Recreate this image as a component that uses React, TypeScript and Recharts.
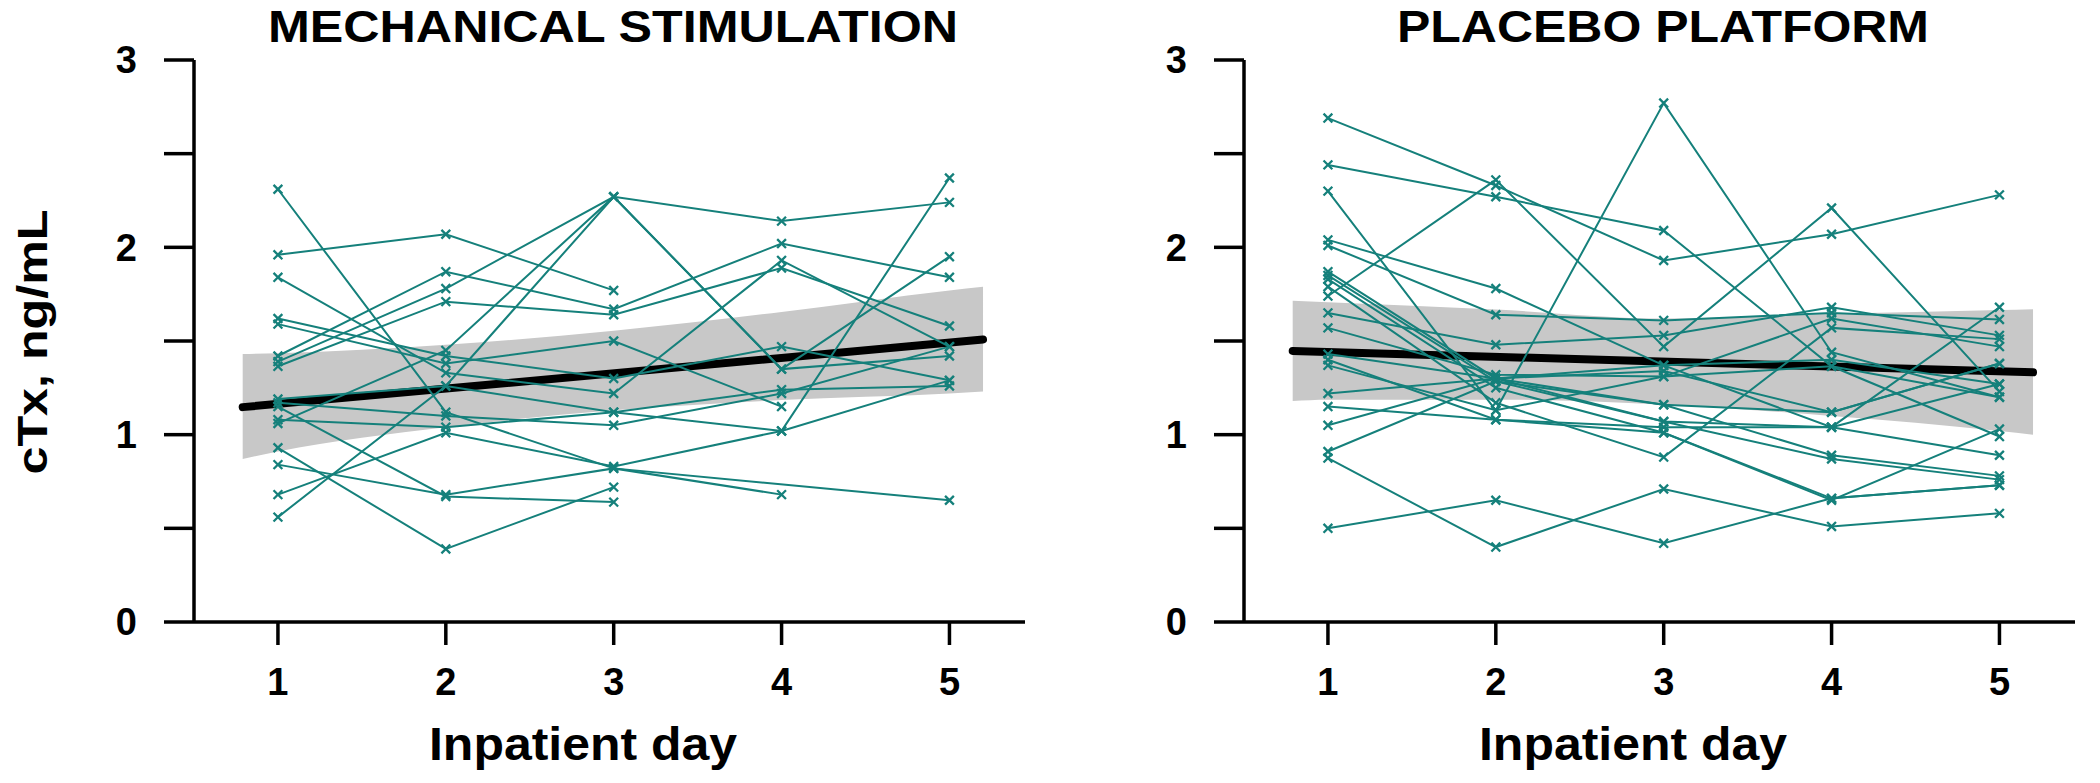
import React from "react";
import { ComposedChart, Line, Area, XAxis, YAxis } from "recharts";

const TEAL = "#15807b";
const BAND = "#c8c8c8";
const FONT = "'Liberation Sans', Arial, Helvetica, sans-serif";

const DAYS = [1, 2, 3, 4, 5];
const X_TICKS = [1, 2, 3, 4, 5];
const Y_TICKS = [0, 0.5, 1, 1.5, 2, 2.5, 3];

// Mechanical stimulation: one row per subject, values for days 1..5
const msSubjects: (number | null)[][] = [
  [1.96, 2.07, 1.77, null, null],
  [2.31, 1.12, 0.82, null, 0.65],
  [1.42, 1.87, 1.67, 2.02, 1.84],
  [1.39, 1.78, 2.27, 2.14, 2.24],
  [1.365, 1.71, 1.64, 1.89, 1.58],
  [1.06, 1.45, 2.27, 1.35, 1.95],
  [0.56, 1.26, 2.27, 1.35, 1.42],
  [1.84, 1.33, 1.22, 1.93, 1.47],
  [1.62, 1.42, 1.3, 1.47, 1.29],
  [1.59, 1.38, 1.5, 1.15, null],
  [1.19, 1.26, 1.12, 1.24, 1.26],
  [1.17, 1.1, 1.05, 1.22, 1.47],
  [1.08, 1.04, 1.12, 1.02, 2.37],
  [0.93, 0.39, 0.72, null, null],
  [0.84, 0.68, 0.82, 0.68, null],
  [0.68, 1.01, 0.83, 1.02, 1.29],
  [1.15, 0.67, 0.64, null, null],
];

// Placebo platform
const ppSubjects: (number | null)[][] = [
  [2.69, 2.33, 1.93, 2.07, 2.28],
  [2.44, 2.27, 2.09, 1.365, 0.99],
  [2.3, 1.13, 2.77, 1.44, 1.2],
  [1.74, 2.36, 1.47, 2.21, 1.23],
  [2.04, 1.78, 1.37, 1.04, 0.89],
  [2.01, 1.64, 1.61, 1.65, 1.615],
  [1.87, 1.3, 1.16, 0.89, 0.78],
  [1.85, 1.285, 1.07, 0.87, 0.76],
  [1.83, 1.25, 1.01, 0.66, 0.73],
  [1.79, 1.17, 0.88, 1.57, 1.51],
  [1.65, 1.48, 1.53, 1.68, 1.53],
  [1.57, 1.32, 1.31, 1.62, 1.47],
  [1.43, 1.3, 1.34, 1.12, 1.38],
  [1.4, 1.08, 1.04, 1.04, 1.27],
  [1.37, 1.13, 1.31, 1.365, 1.2],
  [1.22, 1.3, 1.07, 1.04, 1.68],
  [1.15, 1.08, 1.01, 0.65, 1.03],
  [1.05, 1.3, 1.37, 1.4, 1.27],
  [0.91, 1.285, 1.16, 1.12, 1.38],
  [0.875, 0.4, 0.71, 0.51, 0.58],
  [0.5, 0.65, 0.42, 0.66, 0.73],
];

// Confidence bands and fitted lines
const bandDays = [0.79, 1, 2, 3, 4, 5, 5.2];
const msBandLow = [0.87, 0.91, 1.04, 1.13, 1.185, 1.22, 1.23];
const msBandHigh = [1.43, 1.435, 1.48, 1.555, 1.655, 1.77, 1.79];
const ppBandLow = [1.18, 1.187, 1.187, 1.16, 1.1, 1.02, 1.0];
const ppBandHigh = [1.715, 1.707, 1.668, 1.62, 1.645, 1.665, 1.67];

const fitDays = [0.79, 5.2];
const msFit = [1.147, 1.508];
const ppFit = [1.447, 1.333];

const XDot = (props: any) => {
  const { cx, cy, value } = props;
  if (cx == null || cy == null || value == null) return <g />;
  const s = 4.4;
  return (
    <path
      d={`M${cx - s},${cy - s}L${cx + s},${cy + s}M${cx - s},${cy + s}L${cx + s},${cy - s}`}
      stroke={TEAL}
      strokeWidth={2.3}
      fill="none"
    />
  );
};

type PanelProps = {
  title: string;
  titleWidth: number;
  subjects: (number | null)[][];
  bandLow: number[];
  bandHigh: number[];
  fit: number[];
  showYTitle: boolean;
};

const Panel = ({ title, titleWidth, subjects, bandLow, bandHigh, fit, showYTitle }: PanelProps) => {
  const bandData = bandDays.map((d, i) => ({ day: d, range: [bandLow[i], bandHigh[i]] }));
  const fitData = fitDays.map((d, i) => ({ day: d, v: fit[i] }));
  const axisStyle = { stroke: "#000", strokeWidth: 3.5 };
  const tickStyle = { fill: "#000", fontSize: 38, fontWeight: "bold", fontFamily: FONT };
  return (
    <ComposedChart
      width={1050}
      height={783}
      margin={{ top: 60, right: 25, bottom: 41, left: 0 }}
    >
      <XAxis
        dataKey="day"
        type="number"
        domain={[0.5, 5.45]}
        ticks={X_TICKS}
        interval={0}
        allowDataOverflow
        height={120}
        tickSize={23}
        tickMargin={23}
        axisLine={axisStyle}
        tickLine={axisStyle}
        tick={tickStyle}
      />
      <YAxis
        type="number"
        domain={[0, 3]}
        ticks={Y_TICKS}
        interval={0}
        width={194}
        tickSize={30}
        tickMargin={27}
        axisLine={axisStyle}
        tickLine={axisStyle}
        tick={tickStyle}
        tickFormatter={(v: number) => (Number.isInteger(v) ? String(v) : "")}
      />
      <Area
        data={bandData}
        dataKey="range"
        type="monotone"
        fill={BAND}
        fillOpacity={1}
        stroke="none"
        isAnimationActive={false}
        activeDot={false}
      />
      <Line
        data={fitData}
        dataKey="v"
        stroke="#000"
        strokeWidth={8}
        strokeLinecap="round"
        dot={false}
        activeDot={false}
        isAnimationActive={false}
      />
      {subjects.map((s, k) => (
        <Line
          key={k}
          data={DAYS.map((d, i) => ({ day: d, v: s[i] }))}
          dataKey="v"
          stroke={TEAL}
          strokeWidth={2}
          connectNulls
          dot={<XDot />}
          activeDot={false}
          isAnimationActive={false}
        />
      ))}
      <text
        x={613}
        y={42}
        textAnchor="middle"
        fontSize={45}
        fontWeight="bold"
        fontFamily={FONT}
        fill="#000"
        textLength={titleWidth}
        lengthAdjust="spacingAndGlyphs"
      >
        {title}
      </text>
      <text
        x={583}
        y={760}
        textAnchor="middle"
        fontSize={46}
        fontWeight="bold"
        fontFamily={FONT}
        fill="#000"
        textLength={308}
        lengthAdjust="spacingAndGlyphs"
      >
        Inpatient day
      </text>
      {showYTitle && (
        <text
          transform="translate(47,342) rotate(-90)"
          textAnchor="middle"
          fontSize={43}
          fontWeight="bold"
          fontFamily={FONT}
          fill="#000"
          textLength={265}
          lengthAdjust="spacingAndGlyphs"
        >
          cTx, ng/mL
        </text>
      )}
    </ComposedChart>
  );
};

export default function App() {
  return (
    <div
      style={{
        position: "absolute",
        left: 0,
        top: 0,
        width: 2100,
        height: 783,
        display: "flex",
        background: "#fff",
      }}
    >
      <style>{`body{margin:0}`}</style>
      <Panel
        title="MECHANICAL STIMULATION"
        titleWidth={690}
        subjects={msSubjects}
        bandLow={msBandLow}
        bandHigh={msBandHigh}
        fit={msFit}
        showYTitle
      />
      <Panel
        title="PLACEBO PLATFORM"
        titleWidth={532}
        subjects={ppSubjects}
        bandLow={ppBandLow}
        bandHigh={ppBandHigh}
        fit={ppFit}
        showYTitle={false}
      />
    </div>
  );
}
